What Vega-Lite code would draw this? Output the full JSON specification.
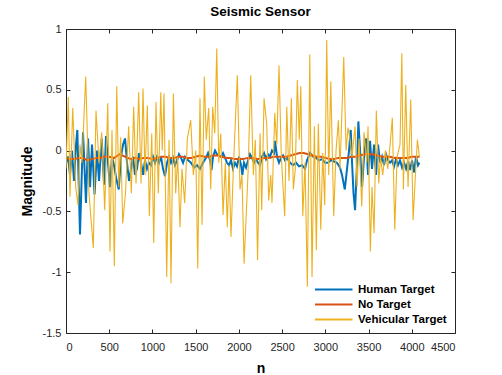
{
"$schema": "https://vega.github.io/schema/vega-lite/v6.json",
"width": 389, "height": 304,
"autosize": {"type": "none"},
"padding": {"left": 66, "top": 29, "right": 47, "bottom": 42},
"background": "white",
"title": {"text": "Seismic Sensor", "fontSize": 13.5, "fontWeight": "bold", "font": "Liberation Sans", "color": "#000000", "offset": 5, "anchor": "middle"},
"config": {
  "view": {"stroke": "#262626", "strokeWidth": 1},
  "font": "Liberation Sans",
  "axis": {"domain": false, "grid": false, "tickColor": "#262626", "tickSize": -4, "labelPadding": 9, "labelFontSize": 11, "labelColor": "#262626", "labelFont": "Liberation Sans", "titleFont": "Liberation Sans", "titleFontSize": 14, "titleFontWeight": "bold", "titleColor": "#000000"},
  "legend": {"orient": "bottom-right", "offset": 5, "symbolType": "M-1,0H4", "symbolSize": 225, "symbolStrokeWidth": 2, "labelFont": "Liberation Sans", "labelFontWeight": "bold", "labelFontSize": 11.5, "labelColor": "#000000", "fillColor": "white", "padding": 3, "rowPadding": 1, "labelOffset": 27}
},
"datasets": {
"human": [
{"n":0,"v":-0.10},{"n":23,"v":-0.05},{"n":46,"v":-0.20},{"n":69,"v":0.00},{"n":93,"v":-0.25},{"n":116,"v":0.05},{"n":131,"v":0.17},{"n":162,"v":-0.69},{"n":197,"v":0.15},{"n":231,"v":-0.43},{"n":255,"v":0.10},{"n":278,"v":-0.30},{"n":301,"v":0.05},{"n":330,"v":-0.36},{"n":359,"v":0.00},{"n":382,"v":-0.25},{"n":413,"v":0.10},{"n":440,"v":-0.28},{"n":463,"v":0.12},{"n":486,"v":-0.10},{"n":509,"v":-0.30},{"n":532,"v":-0.05},{"n":555,"v":-0.12},{"n":579,"v":-0.22},{"n":610,"v":-0.32},{"n":636,"v":-0.05},{"n":660,"v":0.05},{"n":683,"v":0.10},{"n":706,"v":-0.10},{"n":729,"v":-0.25},{"n":752,"v":-0.15},{"n":775,"v":-0.05},{"n":798,"v":-0.20},{"n":821,"v":-0.15},{"n":845,"v":-0.02},{"n":868,"v":-0.10},{"n":891,"v":-0.20},{"n":914,"v":-0.08},{"n":937,"v":-0.15},{"n":960,"v":-0.10},{"n":983,"v":-0.12},{"n":1007,"v":-0.05},{"n":1030,"v":-0.10},{"n":1053,"v":-0.05},{"n":1076,"v":-0.10},{"n":1099,"v":-0.05},{"n":1122,"v":-0.15},{"n":1145,"v":-0.21},{"n":1169,"v":-0.10},{"n":1192,"v":-0.05},{"n":1215,"v":-0.10},{"n":1238,"v":-0.06},{"n":1261,"v":-0.12},{"n":1284,"v":-0.08},{"n":1307,"v":-0.03},{"n":1331,"v":-0.06},{"n":1354,"v":-0.10},{"n":1377,"v":-0.05},{"n":1412,"v":-0.08},{"n":1446,"v":-0.10},{"n":1481,"v":-0.14},{"n":1516,"v":-0.12},{"n":1550,"v":-0.15},{"n":1585,"v":-0.10},{"n":1620,"v":-0.06},{"n":1643,"v":-0.02},{"n":1666,"v":-0.08},{"n":1683,"v":-0.16},{"n":1701,"v":-0.05},{"n":1724,"v":0.00},{"n":1747,"v":-0.03},{"n":1770,"v":-0.04},{"n":1793,"v":-0.05},{"n":1816,"v":-0.02},{"n":1840,"v":-0.06},{"n":1863,"v":-0.10},{"n":1886,"v":-0.12},{"n":1909,"v":-0.08},{"n":1932,"v":-0.15},{"n":1955,"v":-0.10},{"n":1978,"v":-0.13},{"n":2002,"v":-0.05},{"n":2025,"v":-0.12},{"n":2040,"v":-0.20},{"n":2059,"v":-0.10},{"n":2083,"v":-0.14},{"n":2106,"v":-0.08},{"n":2129,"v":-0.03},{"n":2152,"v":-0.06},{"n":2175,"v":-0.10},{"n":2198,"v":-0.07},{"n":2221,"v":-0.10},{"n":2245,"v":-0.12},{"n":2268,"v":-0.05},{"n":2291,"v":-0.02},{"n":2314,"v":-0.07},{"n":2337,"v":-0.03},{"n":2360,"v":-0.05},{"n":2383,"v":0.00},{"n":2407,"v":-0.02},{"n":2418,"v":0.08},{"n":2441,"v":-0.05},{"n":2464,"v":-0.10},{"n":2488,"v":-0.06},{"n":2511,"v":-0.04},{"n":2534,"v":-0.08},{"n":2557,"v":-0.06},{"n":2592,"v":-0.10},{"n":2626,"v":-0.12},{"n":2661,"v":-0.10},{"n":2696,"v":-0.13},{"n":2731,"v":-0.12},{"n":2765,"v":-0.15},{"n":2788,"v":-0.08},{"n":2823,"v":-0.02},{"n":2858,"v":-0.05},{"n":2893,"v":-0.06},{"n":2927,"v":-0.08},{"n":2962,"v":-0.07},{"n":2997,"v":-0.10},{"n":3031,"v":-0.10},{"n":3066,"v":-0.08},{"n":3101,"v":-0.09},{"n":3135,"v":-0.10},{"n":3170,"v":-0.14},{"n":3193,"v":-0.20},{"n":3225,"v":-0.32},{"n":3251,"v":-0.15},{"n":3274,"v":0.00},{"n":3294,"v":0.17},{"n":3309,"v":-0.10},{"n":3326,"v":-0.35},{"n":3344,"v":-0.49},{"n":3367,"v":-0.10},{"n":3382,"v":0.24},{"n":3402,"v":0.00},{"n":3425,"v":-0.30},{"n":3448,"v":-0.05},{"n":3471,"v":0.10},{"n":3494,"v":-0.20},{"n":3517,"v":0.08},{"n":3540,"v":-0.15},{"n":3564,"v":0.05},{"n":3587,"v":-0.20},{"n":3610,"v":0.05},{"n":3633,"v":-0.10},{"n":3656,"v":-0.05},{"n":3679,"v":-0.12},{"n":3702,"v":-0.03},{"n":3726,"v":-0.08},{"n":3749,"v":-0.10},{"n":3772,"v":-0.08},{"n":3795,"v":-0.13},{"n":3818,"v":-0.07},{"n":3841,"v":-0.12},{"n":3864,"v":-0.08},{"n":3888,"v":-0.14},{"n":3911,"v":-0.10},{"n":3934,"v":-0.15},{"n":3957,"v":-0.09},{"n":3980,"v":-0.16},{"n":4003,"v":-0.08},{"n":4026,"v":-0.18},{"n":4049,"v":-0.05},{"n":4072,"v":-0.12},{"n":4088,"v":-0.10}
],
"none": [
{"n":0,"v":-0.06},{"n":50,"v":-0.07},{"n":100,"v":-0.07},{"n":150,"v":-0.06},{"n":200,"v":-0.06},{"n":250,"v":-0.08},{"n":300,"v":-0.07},{"n":350,"v":-0.06},{"n":400,"v":-0.06},{"n":450,"v":-0.05},{"n":500,"v":-0.05},{"n":560,"v":-0.06},{"n":620,"v":-0.03},{"n":680,"v":-0.05},{"n":750,"v":-0.07},{"n":800,"v":-0.06},{"n":850,"v":-0.07},{"n":900,"v":-0.06},{"n":950,"v":-0.06},{"n":1000,"v":-0.07},{"n":1050,"v":-0.06},{"n":1100,"v":-0.05},{"n":1150,"v":-0.05},{"n":1200,"v":-0.06},{"n":1250,"v":-0.06},{"n":1300,"v":-0.05},{"n":1350,"v":-0.05},{"n":1400,"v":-0.06},{"n":1450,"v":-0.06},{"n":1500,"v":-0.05},{"n":1550,"v":-0.04},{"n":1600,"v":-0.05},{"n":1650,"v":-0.05},{"n":1700,"v":-0.04},{"n":1750,"v":-0.04},{"n":1800,"v":-0.05},{"n":1850,"v":-0.06},{"n":1900,"v":-0.06},{"n":1950,"v":-0.07},{"n":2000,"v":-0.07},{"n":2050,"v":-0.07},{"n":2100,"v":-0.06},{"n":2150,"v":-0.06},{"n":2200,"v":-0.07},{"n":2250,"v":-0.07},{"n":2300,"v":-0.06},{"n":2350,"v":-0.06},{"n":2400,"v":-0.05},{"n":2450,"v":-0.05},{"n":2500,"v":-0.05},{"n":2550,"v":-0.05},{"n":2600,"v":-0.04},{"n":2650,"v":-0.03},{"n":2700,"v":-0.02},{"n":2750,"v":-0.02},{"n":2800,"v":-0.03},{"n":2850,"v":-0.04},{"n":2900,"v":-0.05},{"n":2950,"v":-0.05},{"n":3000,"v":-0.06},{"n":3050,"v":-0.07},{"n":3100,"v":-0.07},{"n":3150,"v":-0.06},{"n":3200,"v":-0.06},{"n":3250,"v":-0.06},{"n":3300,"v":-0.05},{"n":3350,"v":-0.05},{"n":3400,"v":-0.04},{"n":3450,"v":-0.03},{"n":3500,"v":-0.03},{"n":3550,"v":-0.03},{"n":3600,"v":-0.04},{"n":3650,"v":-0.05},{"n":3700,"v":-0.05},{"n":3750,"v":-0.05},{"n":3800,"v":-0.06},{"n":3850,"v":-0.06},{"n":3900,"v":-0.06},{"n":3950,"v":-0.06},{"n":4000,"v":-0.05},{"n":4050,"v":-0.05},{"n":4090,"v":-0.05}
],
"veh": [
{"n":0,"v":-0.15},{"n":27,"v":0.44},{"n":46,"v":-0.38},{"n":78,"v":0.35},{"n":112,"v":-0.30},{"n":139,"v":-0.45},{"n":162,"v":0.05},{"n":185,"v":-0.10},{"n":228,"v":0.61},{"n":266,"v":-0.35},{"n":316,"v":-0.80},{"n":347,"v":0.33},{"n":382,"v":-0.10},{"n":413,"v":0.15},{"n":448,"v":-0.49},{"n":483,"v":0.39},{"n":509,"v":-0.83},{"n":532,"v":0.17},{"n":559,"v":-0.95},{"n":587,"v":0.53},{"n":610,"v":-0.30},{"n":633,"v":0.11},{"n":656,"v":-0.60},{"n":688,"v":-0.35},{"n":725,"v":0.20},{"n":756,"v":-0.35},{"n":783,"v":0.36},{"n":810,"v":-0.27},{"n":841,"v":0.48},{"n":868,"v":-0.27},{"n":891,"v":0.51},{"n":914,"v":-0.20},{"n":941,"v":0.37},{"n":964,"v":-0.54},{"n":992,"v":0.14},{"n":1015,"v":-0.76},{"n":1041,"v":0.40},{"n":1068,"v":-0.35},{"n":1096,"v":0.48},{"n":1114,"v":0.00},{"n":1134,"v":0.47},{"n":1165,"v":-1.04},{"n":1192,"v":0.09},{"n":1215,"v":-1.09},{"n":1242,"v":0.47},{"n":1269,"v":-0.35},{"n":1292,"v":-0.05},{"n":1319,"v":-0.63},{"n":1342,"v":-0.15},{"n":1373,"v":-0.43},{"n":1404,"v":0.10},{"n":1443,"v":0.25},{"n":1473,"v":-0.20},{"n":1501,"v":0.00},{"n":1524,"v":-0.97},{"n":1550,"v":0.43},{"n":1574,"v":-0.61},{"n":1600,"v":0.61},{"n":1623,"v":0.09},{"n":1651,"v":0.35},{"n":1674,"v":-0.32},{"n":1697,"v":0.36},{"n":1721,"v":0.14},{"n":1744,"v":0.84},{"n":1767,"v":-0.10},{"n":1790,"v":0.14},{"n":1817,"v":-0.53},{"n":1843,"v":-0.10},{"n":1866,"v":-0.63},{"n":1886,"v":-0.12},{"n":1909,"v":-0.71},{"n":1936,"v":-0.15},{"n":1982,"v":0.62},{"n":2013,"v":-0.32},{"n":2036,"v":-0.20},{"n":2060,"v":-0.93},{"n":2106,"v":-0.18},{"n":2137,"v":0.62},{"n":2167,"v":-0.20},{"n":2190,"v":0.09},{"n":2216,"v":-0.90},{"n":2245,"v":0.14},{"n":2264,"v":-0.49},{"n":2291,"v":0.43},{"n":2322,"v":0.22},{"n":2345,"v":-0.41},{"n":2368,"v":-0.20},{"n":2383,"v":-0.43},{"n":2415,"v":0.31},{"n":2438,"v":0.05},{"n":2464,"v":0.70},{"n":2491,"v":-0.05},{"n":2530,"v":-0.54},{"n":2554,"v":0.36},{"n":2580,"v":-0.25},{"n":2607,"v":0.43},{"n":2630,"v":-0.32},{"n":2653,"v":-0.15},{"n":2676,"v":0.58},{"n":2699,"v":0.09},{"n":2716,"v":0.53},{"n":2739,"v":-0.54},{"n":2765,"v":-0.10},{"n":2792,"v":-1.12},{"n":2820,"v":0.79},{"n":2846,"v":-1.04},{"n":2873,"v":0.20},{"n":2896,"v":-0.82},{"n":2919,"v":0.22},{"n":2947,"v":-0.65},{"n":2970,"v":-0.02},{"n":2993,"v":-0.45},{"n":3016,"v":0.91},{"n":3039,"v":-0.20},{"n":3063,"v":0.57},{"n":3097,"v":-0.54},{"n":3124,"v":0.00},{"n":3151,"v":0.25},{"n":3170,"v":-0.15},{"n":3213,"v":0.77},{"n":3240,"v":0.00},{"n":3263,"v":0.19},{"n":3286,"v":0.09},{"n":3309,"v":-0.05},{"n":3344,"v":0.20},{"n":3367,"v":-0.30},{"n":3390,"v":0.10},{"n":3421,"v":-0.46},{"n":3448,"v":0.15},{"n":3479,"v":-0.10},{"n":3494,"v":0.20},{"n":3521,"v":-0.83},{"n":3540,"v":-0.30},{"n":3564,"v":-0.68},{"n":3590,"v":0.33},{"n":3618,"v":-0.27},{"n":3637,"v":-0.05},{"n":3664,"v":-0.20},{"n":3694,"v":0.00},{"n":3722,"v":-0.15},{"n":3749,"v":0.05},{"n":3775,"v":0.27},{"n":3803,"v":-0.65},{"n":3830,"v":-0.05},{"n":3864,"v":0.05},{"n":3885,"v":0.80},{"n":3903,"v":-0.32},{"n":3930,"v":0.54},{"n":3957,"v":-0.30},{"n":3988,"v":0.42},{"n":4015,"v":-0.57},{"n":4046,"v":-0.15},{"n":4065,"v":0.09},{"n":4088,"v":-0.05}
]
},
"layer": [
{
  "data": {"name": "human"},
  "mark": {"type": "line", "strokeWidth": 2, "clip": true},
  "encoding": {
    "x": {"field": "n", "type": "quantitative", "scale": {"domain": [0, 4500], "nice": false, "zero": false},
          "axis": {"orient": "bottom", "values": [0,500,1000,1500,2000,2500,3000,3500,4000,4500], "labelExpr": "datum.value + ''", "labelPadding": 12, "title": "n", "titlePadding": 9}},
    "y": {"field": "v", "type": "quantitative", "scale": {"domain": [-1.5, 1], "nice": false, "zero": false},
          "axis": {"orient": "left", "values": [-1.5,-1,-0.5,0,0.5,1], "labelExpr": "datum.value + ''", "title": "Magnitude", "titlePadding": 8}},
    "color": {"datum": "Human Target", "type": "nominal",
              "scale": {"domain": ["Human Target", "No Target", "Vehicular Target"], "range": ["#0072BD", "#D95319", "#EDB120"]},
              "legend": {"title": null}}
  }
},
{
  "data": {"name": "none"},
  "mark": {"type": "line", "strokeWidth": 2, "clip": true},
  "encoding": {
    "x": {"field": "n", "type": "quantitative", "axis": null},
    "y": {"field": "v", "type": "quantitative", "axis": null},
    "color": {"datum": "No Target", "type": "nominal"}
  }
},
{
  "data": {"name": "veh"},
  "mark": {"type": "line", "strokeWidth": 1.1, "clip": true},
  "encoding": {
    "x": {"field": "n", "type": "quantitative", "axis": null},
    "y": {"field": "v", "type": "quantitative", "axis": null},
    "color": {"datum": "Vehicular Target", "type": "nominal"}
  }
},
{
  "data": {"name": "none"},
  "mark": {"type": "point", "opacity": 0},
  "encoding": {
    "x": {"field": "n", "type": "quantitative", "axis": {"orient": "top", "values": [0,500,1000,1500,2000,2500,3000,3500,4000,4500], "labels": false, "title": null}},
    "y": {"field": "v", "type": "quantitative", "axis": {"orient": "right", "values": [-1.5,-1,-0.5,0,0.5,1], "labels": false, "title": null}}
  }
}
],
"resolve": {"axis": {"x": "independent", "y": "independent"}}
}
